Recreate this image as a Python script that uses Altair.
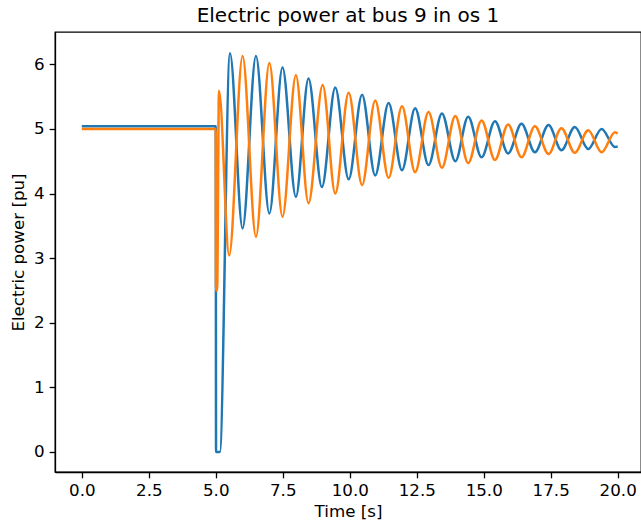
import altair as alt
import pandas as pd

# Series 1 (blue): time [s] and electric power [pu]
blue_t = [0.0, 5.0, 5.01, 5.15, 5.53, 6.0, 6.5, 7.0, 7.49, 7.99, 8.46, 8.96, 9.46, 9.96,
          10.46, 10.95, 11.45, 11.95, 12.44, 12.94, 13.44, 13.94, 14.42, 14.92, 15.42,
          15.91, 16.41, 16.91, 17.42, 17.9, 18.4, 18.9, 19.4, 19.9, 20.0]
blue_v = [5.04, 5.04, 0.0, 0.0, 6.17, 3.46, 6.13, 3.69, 5.95, 3.95, 5.78, 4.10, 5.64, 4.22,
          5.53, 4.28, 5.40, 4.36, 5.32, 4.44, 5.24, 4.50, 5.19, 4.56, 5.12,
          4.62, 5.08, 4.64, 5.06, 4.67, 5.03, 4.69, 5.00, 4.72, 4.73]

# Series 2 (orange)
orange_t = [0.0, 5.0, 5.01, 5.05, 5.12, 5.5, 6.0, 6.5, 7.0, 7.49, 7.99, 8.46, 8.99, 9.46,
            9.96, 10.46, 10.95, 11.45, 11.95, 12.44, 12.94, 13.44, 13.94, 14.42, 14.92,
            15.42, 15.91, 16.41, 16.91, 17.42, 17.9, 18.4, 18.9, 19.4, 19.9, 20.0]
orange_v = [5.0, 5.0, 2.5, 2.5, 5.59, 3.04, 6.13, 3.33, 6.02, 3.64, 5.83, 3.85, 5.68, 4.0,
            5.56, 4.13, 5.44, 4.24, 5.35, 4.33, 5.26, 4.40, 5.20, 4.47, 5.13,
            4.52, 5.07, 4.56, 5.04, 4.61, 5.01, 4.63, 4.98, 4.64, 4.95, 4.93]

series_names = ["gen 1", "gen 2"]
series_colors = ["#1f77b4", "#ff7f0e"]
x_ticks = [0, 2.5, 5, 7.5, 10, 12.5, 15, 17.5, 20]
y_ticks = [0, 1, 2, 3, 4, 5, 6]

rows = []
for i, (t, v) in enumerate(zip(blue_t, blue_v)):
    rows.append({"t": t, "p": v, "s": series_names[0], "i": i})
for i, (t, v) in enumerate(zip(orange_t, orange_v)):
    rows.append({"t": t, "p": v, "s": series_names[1], "i": i})
df = pd.DataFrame(rows)

chart = alt.Chart(df).mark_line(strokeWidth=2.5, interpolate="monotone", clip=True).encode(
    x=alt.X("t:Q", title="Time [s]",
            scale=alt.Scale(domain=[-1, 20.87], nice=False, zero=False),
            axis=alt.Axis(values=x_ticks, format=".1f")),
    y=alt.Y("p:Q", title="Electric power [pu]",
            scale=alt.Scale(domain=[-0.31, 6.50], nice=False, zero=False),
            axis=alt.Axis(values=y_ticks, format="d")),
    color=alt.Color("s:N", scale=alt.Scale(domain=series_names, range=series_colors), legend=None),
    order="i:Q",
).properties(
    width=586,
    height=440,
    title=alt.TitleParams("Electric power at bus 9 in os 1", fontSize=20, fontWeight="normal",
                          font="DejaVu Sans", color="black", anchor="middle",
                          baseline="alphabetic", offset=10, dy=20),
    autosize=alt.AutoSizeParams(type="none"),
    padding={"left": 55, "top": 32, "right": 0, "bottom": 51},
).configure_view(
    stroke="black", strokeWidth=1.3
).configure_axis(
    grid=False,
    domainColor="black", domainWidth=1.3,
    tickColor="black", tickWidth=1.3, tickSize=5.8,
    labelFont="DejaVu Sans", labelFontSize=16.7, labelColor="black", labelPadding=5,
    titleFont="DejaVu Sans", titleFontSize=16.7, titleFontWeight="normal", titleColor="black",
).configure_axisX(
    titlePadding=4, labelFlush=False, labelOverlap=False
).configure_axisY(
    titlePadding=6, labelOverlap=False
)

chart.save("out.html", embed_options={"renderer": "svg", "actions": False})
